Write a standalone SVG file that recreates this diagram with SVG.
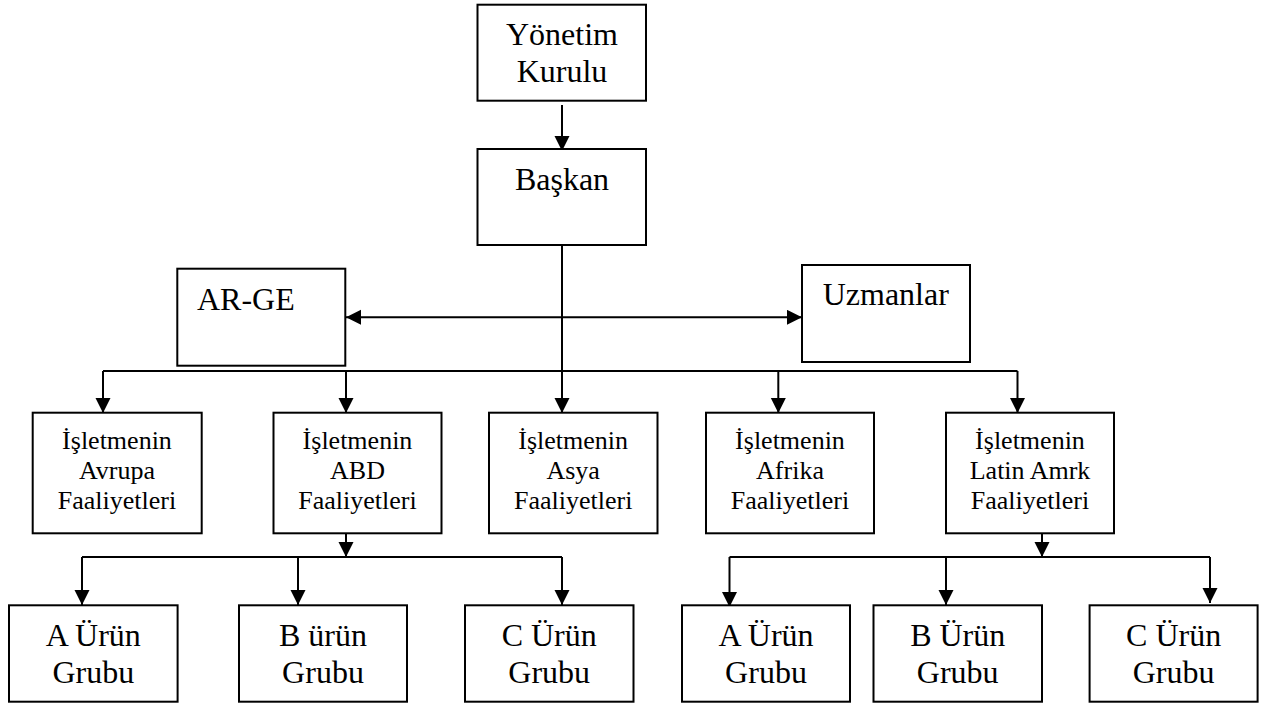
<svg xmlns="http://www.w3.org/2000/svg" width="1278" height="703" viewBox="0 0 1278 703">
<defs>
<marker id="ah" markerUnits="userSpaceOnUse" markerWidth="16" markerHeight="16" refX="15" refY="7.5" orient="auto-start-reverse" viewBox="0 0 16 16">
<path d="M0,0 L15,7.5 L0,15 z" fill="#000"/>
</marker>
<style>
.box{fill:#fff;stroke:#000;stroke-width:2}
text{font-family:'Liberation Serif','Times New Roman',serif;fill:#000}
.big{font-size:32px}
.mid{font-size:26px}
.c{text-anchor:middle}
.ln{fill:none;stroke:#000;stroke-width:2}
.ar{marker-end:url(#ah)}
</style>
</defs>
<rect width="1278" height="703" fill="#fff"/>
<g id="connectors">
<path class="ln ar" d="M562,105 V151"/>
<path class="ln ar" d="M562,245 V413"/>
<path class="ln" d="M346,317.3 H802" marker-start="url(#ah)" marker-end="url(#ah)"/>
<path class="ln" d="M103,371 H1017.5"/>
<path class="ln ar" d="M103,371 V413"/>
<path class="ln ar" d="M346,371 V413"/>
<path class="ln ar" d="M778.3,371 V413"/>
<path class="ln ar" d="M1017.5,371 V413"/>
<path class="ln ar" d="M346,533 V557"/>
<path class="ln" d="M82,557 H562"/>
<path class="ln ar" d="M82,557 V605"/>
<path class="ln ar" d="M298,557 V605"/>
<path class="ln ar" d="M562,557 V605"/>
<path class="ln ar" d="M1042,533 V557"/>
<path class="ln" d="M729.5,557 H1210"/>
<path class="ln ar" d="M729.5,557 V607"/>
<path class="ln ar" d="M946,557 V605"/>
<path class="ln ar" d="M1210,557 V603"/>
</g>
<g id="yonetim-kurulu">
<rect class="box" x="477.5" y="4.7" width="168.5" height="96"/>
<text class="big c" x="562" y="45">Yönetim</text>
<text class="big c" x="562" y="82">Kurulu</text>
</g>
<g id="baskan">
<rect class="box" x="477.5" y="149" width="168.5" height="96"/>
<text class="big c" x="562" y="189.5">Başkan</text>
</g>
<g id="arge">
<rect class="box" x="177.3" y="268.7" width="168" height="97"/>
<text class="big" x="197" y="310">AR-GE</text>
</g>
<g id="uzmanlar">
<rect class="box" x="802" y="265" width="168" height="97"/>
<text class="big" x="822.7" y="305">Uzmanlar</text>
</g>
<g id="avrupa">
<rect class="box" x="32.7" y="412.7" width="169" height="120.6"/>
<text class="mid c" x="117" y="449.3">İşletmenin</text>
<text class="mid c" x="117" y="479">Avrupa</text>
<text class="mid c" x="117" y="509">Faaliyetleri</text>
</g>
<g id="abd">
<rect class="box" x="273.5" y="412.7" width="168" height="120.6"/>
<text class="mid c" x="357.5" y="449.3">İşletmenin</text>
<text class="mid c" x="357.5" y="479">ABD</text>
<text class="mid c" x="357.5" y="509">Faaliyetleri</text>
</g>
<g id="asya">
<rect class="box" x="489" y="412.7" width="168.5" height="120.6"/>
<text class="mid c" x="573.2" y="449.3">İşletmenin</text>
<text class="mid c" x="573.2" y="479">Asya</text>
<text class="mid c" x="573.2" y="509">Faaliyetleri</text>
</g>
<g id="afrika">
<rect class="box" x="706" y="412.7" width="168" height="120.6"/>
<text class="mid c" x="790" y="449.3">İşletmenin</text>
<text class="mid c" x="790" y="479">Afrika</text>
<text class="mid c" x="790" y="509">Faaliyetleri</text>
</g>
<g id="latin">
<rect class="box" x="946" y="412.7" width="168" height="120.6"/>
<text class="mid c" x="1030" y="449.3">İşletmenin</text>
<text class="mid c" x="1030" y="479">Latin Amrk</text>
<text class="mid c" x="1030" y="509">Faaliyetleri</text>
</g>
<g id="abd-a">
<rect class="box" x="9" y="605.3" width="168.6" height="96.4"/>
<text class="big c" x="93.3" y="646">A Ürün</text>
<text class="big c" x="93.3" y="683">Grubu</text>
</g>
<g id="abd-b">
<rect class="box" x="239" y="605.3" width="168" height="96.4"/>
<text class="big c" x="323" y="646">B ürün</text>
<text class="big c" x="323" y="683">Grubu</text>
</g>
<g id="abd-c">
<rect class="box" x="465" y="605.3" width="168.5" height="96.4"/>
<text class="big c" x="549.2" y="646">C Ürün</text>
<text class="big c" x="549.2" y="683">Grubu</text>
</g>
<g id="latin-a">
<rect class="box" x="682" y="605.3" width="168" height="96.4"/>
<text class="big c" x="766" y="646">A Ürün</text>
<text class="big c" x="766" y="683">Grubu</text>
</g>
<g id="latin-b">
<rect class="box" x="873.5" y="605.3" width="168.5" height="96.4"/>
<text class="big c" x="957.7" y="646">B Ürün</text>
<text class="big c" x="957.7" y="683">Grubu</text>
</g>
<g id="latin-c">
<rect class="box" x="1089.6" y="605.3" width="168" height="96.4"/>
<text class="big c" x="1173.6" y="646">C Ürün</text>
<text class="big c" x="1173.6" y="683">Grubu</text>
</g>
</svg>
